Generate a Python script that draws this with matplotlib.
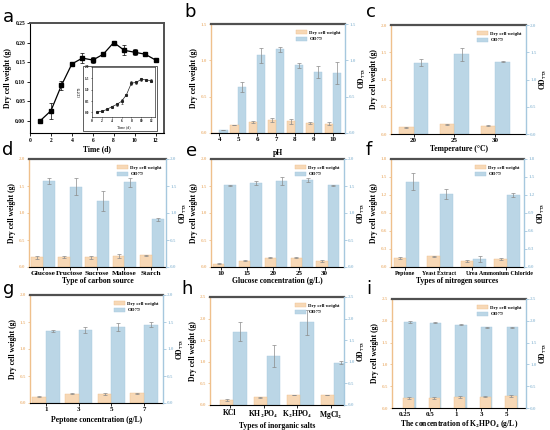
import numpy as np
import matplotlib
matplotlib.use("Agg")
import matplotlib.pyplot as plt
from matplotlib.patches import Rectangle, Patch

plt.rcParams['font.family'] = ['Liberation Serif', 'DejaVu Serif']
plt.rcParams['font.weight'] = 'bold'
plt.rcParams['mathtext.fontset'] = 'stix'

# ---- data ----
# a: growth curve
a_time = [1, 2, 3, 4, 5, 6, 7, 8, 9, 10, 11, 12]
a_dcw = [0.0, 0.025, 0.09, 0.145, 0.16, 0.155, 0.17, 0.20, 0.18, 0.175, 0.17, 0.155]
a_dcw_err = [0.001, 0.02, 0.012, 0.006, 0.012, 0.008, 0.002, 0.002, 0.013, 0.008, 0.002, 0.006]
a_od = [0.02, 0.05, 0.13, 0.25, 0.35, 0.49, 0.78, 1.29, 1.32, 1.46, 1.43, 1.40]
a_od_err = [0.01, 0.01, 0.01, 0.02, 0.05, 0.10, 0.02, 0.08, 0.06, 0.06, 0.06, 0.05]

b_cat = ['4', '5', '6', '7', '8', '9', '10']
b_dcw = [0.0, 0.11, 0.15, 0.18, 0.16, 0.14, 0.13]
b_dcw_err = [0.0, 0.005, 0.01, 0.03, 0.03, 0.015, 0.02]
b_od = [0.04, 0.63, 1.07, 1.15, 0.93, 0.84, 0.83]
b_od_err = [0.005, 0.07, 0.10, 0.03, 0.03, 0.08, 0.15]

c_cat = ['20', '25', '30']
c_dcw = [0.12, 0.18, 0.15]
c_dcw_err = [0.01, 0.01, 0.01]
c_od = [1.31, 1.46, 1.33]
c_od_err = [0.06, 0.12, 0.015]

d_cat = ['Glucose', 'Fructose', 'Sucrose', 'Maltose', 'Starch']
d_dcw = [0.18, 0.19, 0.18, 0.21, 0.22]
d_dcw_err = [0.03, 0.02, 0.03, 0.04, 0.01]
d_od = [1.59, 1.49, 1.22, 1.57, 0.88]
d_od_err = [0.06, 0.15, 0.19, 0.08, 0.03]

e_cat = ['10', '15', '20', '25', '30']
e_dcw = [0.06, 0.12, 0.17, 0.17, 0.11]
e_dcw_err = [0.01, 0.01, 0.01, 0.01, 0.02]
e_od = [1.51, 1.55, 1.59, 1.61, 1.51]
e_od_err = [0.01, 0.04, 0.07, 0.04, 0.01]

f_cat = ['Peptone', 'Yeast Extract', 'Urea', 'Ammonium Chloride']
f_dcw = [0.15, 0.18, 0.10, 0.13]
f_dcw_err = [0.02, 0.01, 0.02, 0.02]
f_od = [1.42, 1.22, 0.14, 1.20]
f_od_err = [0.14, 0.08, 0.05, 0.04]

g_cat = ['1', '3', '5', '7']
g_dcw = [0.12, 0.17, 0.17, 0.18]
g_dcw_err = [0.01, 0.01, 0.02, 0.01]
g_od = [1.34, 1.35, 1.41, 1.45]
g_od_err = [0.02, 0.05, 0.08, 0.05]

h_cat = ['KCl', r'KH$_2$PO$_4$', r'K$_2$HPO$_4$', r'MgCl$_2$']
h_dcw = [0.12, 0.18, 0.23, 0.23]
h_dcw_err = [0.02, 0.01, 0.01, 0.01]
h_od = [1.69, 1.13, 1.91, 0.98]
h_od_err = [0.22, 0.25, 0.30, 0.04]

i_cat = ['0.25', '0.5', '1', '3', '5']
i_dcw = [0.23, 0.23, 0.25, 0.26, 0.28]
i_dcw_err = [0.02, 0.02, 0.02, 0.01, 0.02]
i_od = [1.98, 1.96, 1.91, 1.85, 1.85]
i_od_err = [0.02, 0.01, 0.01, 0.01, 0.01]

W, H = 550, 430
ORANGE = '#F7D8B6'
ORANGE_EDGE = '#EFC08C'
BLUE = '#BBD6E6'
BLUE_EDGE = '#A6C8DE'
OD_LABEL = r'OD$_{773}$'

fig = plt.figure(figsize=(5.5, 4.3), dpi=100)


def box(x0, y0, x1, y1):
    return [x0 / W, 1 - y1 / H, (x1 - x0) / W, (y1 - y0) / H]


def bar_panel(rect, cats, dcw, dcw_err, od, od_err, ylim, yticks, xlabel, xlim,
              w=0.42, off_o=-0.21, off_b=0.21, xfs=5, overlap=False, xlpad=1.5):
    ax = fig.add_axes(rect)
    x = np.arange(len(cats))
    eb = dict(ecolor='#8a8a8a', elinewidth=0.5, capsize=1.2, capthick=0.5)
    ax.bar(x + off_b, od, w, yerr=od_err, color=BLUE, edgecolor=BLUE_EDGE,
           linewidth=0.3, error_kw=eb, zorder=2)
    ax.bar(x + off_o, dcw, w, yerr=dcw_err, color=ORANGE, edgecolor=ORANGE_EDGE,
           linewidth=0.3, error_kw=eb, zorder=3 if overlap else 2)
    ax.set_xlim(*xlim)
    ax.set_ylim(*ylim)
    ax.set_yticks(yticks)
    ax.set_yticklabels(['%.1f' % t for t in yticks])
    ax.set_xticks(x)
    ax.set_xticklabels(cats, fontsize=xfs, fontweight='bold')
    ax.tick_params(axis='y', colors=ORANGE_EDGE, labelsize=3.6, length=1.8, width=0.6, pad=1.2)
    ax.tick_params(axis='x', length=1.8, width=0.6, pad=1.2)
    ax.spines['left'].set_color(ORANGE_EDGE)
    ax.spines['left'].set_linewidth(1.0)
    ax.spines['top'].set_color('#505050')
    ax.spines['top'].set_linewidth(1.6)
    ax.spines['right'].set_visible(False)
    ax.spines['bottom'].set_linewidth(0.8)
    ax.set_ylabel('Dry cell weight (g)', fontsize=5.5, fontweight='bold', labelpad=1.5)
    ax.set_xlabel(xlabel, fontsize=5.5, fontweight='bold', labelpad=xlpad)
    ax2 = ax.twinx()
    ax2.set_ylim(*ylim)
    ax2.set_yticks(yticks)
    ax2.set_yticklabels(['%.1f' % t for t in yticks])
    ax2.tick_params(axis='y', colors=BLUE_EDGE, labelsize=3.6, length=1.8, width=0.6, pad=1.2)
    for s in ['left', 'top', 'bottom']:
        ax2.spines[s].set_visible(False)
    ax2.spines['right'].set_color(BLUE_EDGE)
    ax2.spines['right'].set_linewidth(1.0)
    ax2.set_ylabel(OD_LABEL, fontsize=5.5, fontweight='bold', labelpad=1)
    handles = [Patch(facecolor=ORANGE, edgecolor=ORANGE_EDGE, linewidth=0.3),
               Patch(facecolor=BLUE, edgecolor=BLUE_EDGE, linewidth=0.3)]
    ax.legend(handles, ['Dry cell weight', OD_LABEL], loc='upper right',
              bbox_to_anchor=(0.99, 0.97), fontsize=3.5, frameon=False,
              handlelength=2.2, handleheight=0.9, borderaxespad=0.2,
              labelspacing=0.15, handletextpad=0.5)
    return ax


# ---- panel a ----
axa = fig.add_axes(box(30, 23, 164, 133))
axa.errorbar(a_time, a_dcw, yerr=a_dcw_err, color='black', marker='s', ms=2.2,
             lw=0.9, elinewidth=0.5, capsize=1.3, capthick=0.5)
axa.set_xlim(0, 12.8)
axa.set_ylim(-0.032, 0.25)
axa.set_xticks(range(0, 13, 2))
axa.set_yticks([0.0, 0.05, 0.10, 0.15, 0.20, 0.25])
axa.set_yticklabels(['0.00', '0.05', '0.10', '0.15', '0.20', '0.25'])
axa.tick_params(labelsize=4, length=2, width=0.6, pad=1.5)
for s in axa.spines.values():
    s.set_linewidth(0.8)
axa.spines['top'].set_color('#505050')
axa.spines['top'].set_linewidth(1.4)
axa.spines['right'].set_color('#505050')
axa.spines['right'].set_linewidth(1.4)
axa.set_ylabel('Dry cell weight (g)', fontsize=5.5, fontweight='bold', labelpad=2)
axa.set_xlabel('Time (d)', fontsize=5.5, fontweight='bold', labelpad=1.5)

frame = Rectangle((83 / W, 1 - 131 / H), 74 / W, 65 / H, transform=fig.transFigure,
                  facecolor='white', edgecolor='#444444', linewidth=0.6, zorder=1)
fig.patches.append(frame)
axin = fig.add_axes(box(92, 67, 155, 117), zorder=2)
axin.errorbar(a_time, a_od, yerr=a_od_err, color='#222222', marker='s', ms=1.2,
              lw=0.5, elinewidth=0.4, capsize=0.8, capthick=0.4)
axin.set_xlim(0, 12.8)
axin.set_ylim(-0.2, 2.0)
axin.set_xticks(range(0, 13, 2))
axin.set_yticks([0.0, 0.5, 1.0, 1.5, 2.0])
axin.tick_params(labelsize=2.5, length=1, width=0.4, pad=0.8)
for s in axin.spines.values():
    s.set_linewidth(0.4)
axin.set_xlabel('Time (d)', fontsize=2.8, labelpad=0.8)
axin.set_ylabel('OD$_{773}$', fontsize=2.8, labelpad=0.8)

# ---- bar panels ----
bar_panel(box(211, 24, 345, 133), b_cat, b_dcw, b_dcw_err, b_od, b_od_err,
          (0, 1.5), [0.0, 0.5, 1.0, 1.5], 'pH', (-0.45, 6.65), w=0.44, xlpad=5)
bar_panel(box(391, 25, 526, 134), c_cat, c_dcw, c_dcw_err, c_od, c_od_err,
          (0, 2.0), [0.0, 0.5, 1.0, 1.5, 2.0], 'Temperature (\u00b0C)', (-0.55, 2.75),
          w=0.36, off_o=-0.18, off_b=0.18)
bar_panel(box(29, 159, 166, 267), d_cat, d_dcw, d_dcw_err, d_od, d_od_err,
          (0, 2.0), [0.0, 0.5, 1.0, 1.5, 2.0], 'Type of carbon source', (-0.5, 4.55),
          w=0.44, off_o=-0.2, off_b=0.24, xfs=5.3, xlpad=0.8)
bar_panel(box(211, 159, 344, 267), e_cat, e_dcw, e_dcw_err, e_od, e_od_err,
          (0, 2.0), [0.0, 0.5, 1.0, 1.5, 2.0], 'Glucose concentration (g/L)', (-0.4, 4.75),
          w=0.44, off_o=-0.1, off_b=0.34, xlpad=0.8)
bar_panel(box(391, 159, 524, 267), f_cat, f_dcw, f_dcw_err, f_od, f_od_err,
          (0, 1.8), [0.0, 0.3, 0.6, 0.9, 1.2, 1.5, 1.8], 'Types of nitrogen sources',
          (-0.42, 3.55), w=0.38, off_o=-0.15, off_b=0.23, xfs=4.2, xlpad=0.8)
bar_panel(box(30, 295, 163, 403), g_cat, g_dcw, g_dcw_err, g_od, g_od_err,
          (0, 2.0), [0.0, 0.5, 1.0, 1.5, 2.0], 'Peptone concentration (g/L)', (-0.48, 3.57),
          w=0.42, xlpad=3)
bar_panel(box(210, 297, 344, 405), h_cat, h_dcw, h_dcw_err, h_od, h_od_err,
          (0, 2.5), [0.0, 0.5, 1.0, 1.5, 2.0, 2.5], 'Types of inorganic salts', (-0.6, 3.4),
          w=0.4, off_o=-0.1, off_b=0.3, xfs=5.5, xlpad=0.3)
bar_panel(box(392, 299, 526, 408), i_cat, i_dcw, i_dcw_err, i_od, i_od_err,
          (0, 2.5), [0.0, 0.5, 1.0, 1.5, 2.0, 2.5],
          r'The concentration of K$_2$HPO$_4$ (g/L)', (-0.49, 4.75),
          w=0.44, off_o=0.16, off_b=0.21, overlap=True, xlpad=0.3)

# panel letters
letters = [('a', 3, 22), ('b', 184, 17), ('c', 366, 17),
           ('d', 2, 155), ('e', 186, 156), ('f', 366, 155),
           ('g', 3, 294), ('h', 181, 294), ('i', 366, 294)]
for t, x, y in letters:
    fig.text(x / W, 1 - y / H, t, fontsize=13, family='DejaVu Sans',
             fontweight='normal', va='baseline')

fig.savefig('out.png', dpi=100)
